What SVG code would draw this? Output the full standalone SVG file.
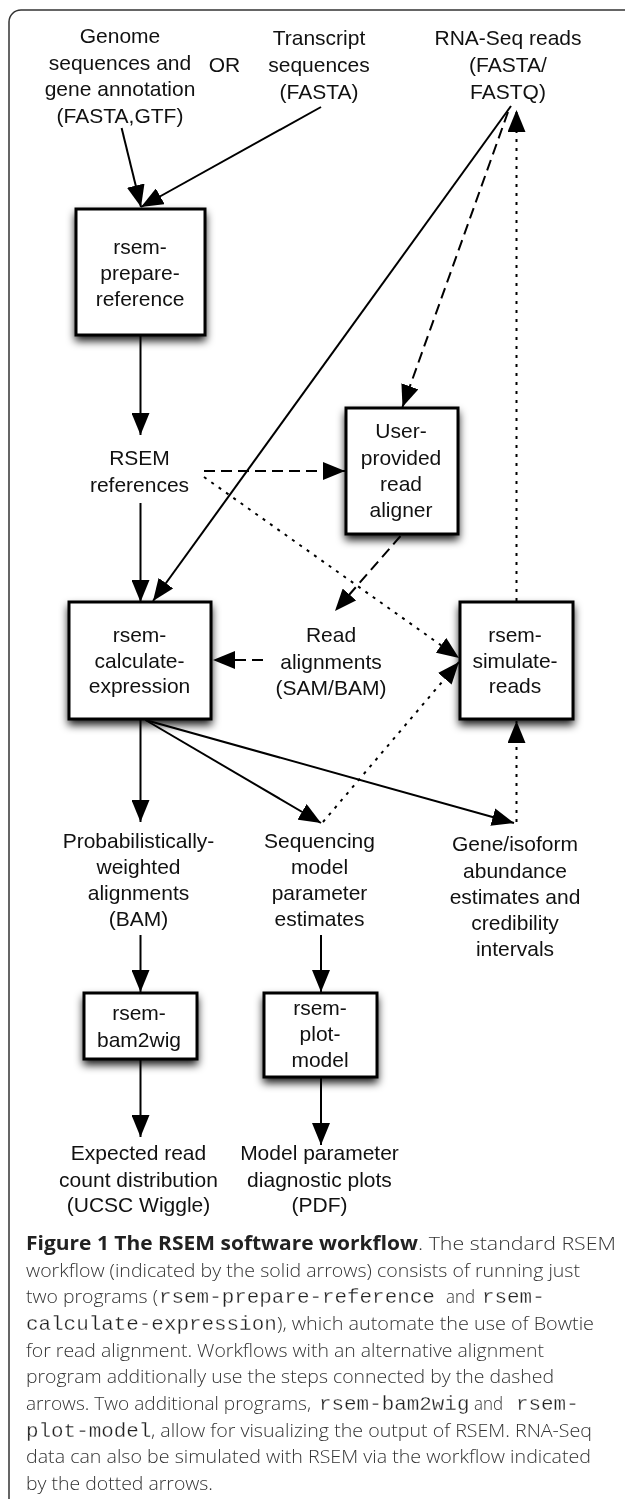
<svg xmlns="http://www.w3.org/2000/svg" width="625" height="1499" viewBox="0 0 625 1499">
<style>
  .t { font-family: "Liberation Sans", Arial, sans-serif; font-size: 21px; fill: #111; text-anchor: middle; }
  .box { fill: #fff; stroke: #000; stroke-width: 3; }
  .shadow { fill: #000; opacity: 0.9; }
  .c { fill: none; stroke: #000; stroke-width: 2; }
  .dash { stroke-dasharray: 11 6; }
  .dot { stroke-dasharray: 3 6; }
  .cap { font-family: "Open Sans", "Liberation Sans", sans-serif; font-size: 19px; fill: #333; font-weight: 300; }
  .capb { font-family: "Open Sans", "Liberation Sans", sans-serif; font-size: 19px; fill: #222; font-weight: 700; }
  .mono { font-family: "Liberation Mono", "Courier New", monospace; font-size: 20.9px; fill: #222; stroke: #fff; stroke-width: 0.3; }
</style>
<defs>
  <marker id="ah" markerUnits="userSpaceOnUse" markerWidth="22" markerHeight="18" refX="22" refY="9" orient="auto" viewBox="0 0 22 18">
    <path d="M0,0 L22,9 L0,18 Z" fill="#000"/>
  </marker>
  <filter id="blur" x="-40%" y="-40%" width="180%" height="180%">
    <feGaussianBlur stdDeviation="4.5"/>
  </filter>
</defs>
<rect width="625" height="1499" fill="#fff"/>
<rect x="9" y="10" width="640" height="1510" rx="12" fill="none" stroke="#333" stroke-width="1.5"/>

<g id="shadows" filter="url(#blur)">
  <rect class="shadow" x="75" y="213" width="131" height="128"/>
  <rect class="shadow" x="345" y="412" width="114" height="128"/>
  <rect class="shadow" x="68" y="606" width="144" height="119"/>
  <rect class="shadow" x="459" y="606" width="115" height="119"/>
  <rect class="shadow" x="83" y="997" width="115" height="68"/>
  <rect class="shadow" x="263" y="997" width="115" height="86"/>
</g>

<g id="connectors">
  <line class="c" x1="121.6" y1="128" x2="141" y2="207" marker-end="url(#ah)"/>
  <line class="c" x1="321" y1="107" x2="141" y2="207" marker-end="url(#ah)"/>
  <line class="c" x1="140.5" y1="335" x2="140.5" y2="435" marker-end="url(#ah)"/>
  <line class="c" x1="140.5" y1="503" x2="140.5" y2="602" marker-end="url(#ah)"/>
  <line class="c" x1="511" y1="106" x2="153" y2="601" marker-end="url(#ah)"/>
  <line class="c dash" x1="508" y1="112" x2="402.5" y2="407" marker-end="url(#ah)"/>
  <line class="c dash" x1="204" y1="471" x2="345" y2="471" marker-end="url(#ah)"/>
  <line class="c dot" x1="204" y1="477" x2="459" y2="658" marker-end="url(#ah)"/>
  <line class="c dash" x1="400.5" y1="536" x2="335" y2="611" marker-end="url(#ah)"/>
  <line class="c dash" x1="263" y1="660" x2="213" y2="660" marker-end="url(#ah)"/>
  <line class="c dot" x1="516.5" y1="601" x2="516.5" y2="110" marker-end="url(#ah)"/>
  <line class="c" x1="140.5" y1="720" x2="140.5" y2="822" marker-end="url(#ah)"/>
  <line class="c" x1="145.5" y1="720" x2="321" y2="823" marker-end="url(#ah)"/>
  <line class="c" x1="145.5" y1="720" x2="514" y2="823" marker-end="url(#ah)"/>
  <line class="c dot" x1="323" y1="822" x2="459" y2="662" marker-end="url(#ah)"/>
  <line class="c dot" x1="516.5" y1="822" x2="516.5" y2="721" marker-end="url(#ah)"/>
  <line class="c" x1="140.5" y1="935" x2="140.5" y2="992" marker-end="url(#ah)"/>
  <line class="c" x1="321" y1="935" x2="321" y2="992" marker-end="url(#ah)"/>
  <line class="c" x1="140.5" y1="1060" x2="140.5" y2="1137" marker-end="url(#ah)"/>
  <line class="c" x1="321" y1="1078" x2="321" y2="1145" marker-end="url(#ah)"/>
</g>

<g id="genome">
  <text class="t" x="120" y="43">Genome</text>
  <text class="t" x="120" y="69.7">sequences and</text>
  <text class="t" x="120" y="96.4">gene annotation</text>
  <text class="t" x="120" y="123">(FASTA,GTF)</text>
</g>
<g id="or"><text class="t" x="224.5" y="72">OR</text></g>
<g id="transcript">
  <text class="t" x="319" y="45">Transcript</text>
  <text class="t" x="319" y="72">sequences</text>
  <text class="t" x="319" y="98.5">(FASTA)</text>
</g>
<g id="rnaseq">
  <text class="t" x="508" y="45">RNA-Seq reads</text>
  <text class="t" x="508" y="72">(FASTA/</text>
  <text class="t" x="508" y="98.5">FASTQ)</text>
</g>

<g id="prepare">
  <rect class="box" x="76" y="209" width="129" height="126"/>
  <text class="t" x="140" y="254">rsem-</text>
  <text class="t" x="140" y="280">prepare-</text>
  <text class="t" x="140" y="306">reference</text>
</g>

<g id="rsemrefs">
  <text class="t" x="139.5" y="465">RSEM</text>
  <text class="t" x="139.5" y="492">references</text>
</g>

<g id="aligner">
  <rect class="box" x="346" y="408" width="112" height="126"/>
  <text class="t" x="401" y="438">User-</text>
  <text class="t" x="401" y="464.5">provided</text>
  <text class="t" x="401" y="491">read</text>
  <text class="t" x="401" y="517">aligner</text>
</g>

<g id="calculate">
  <rect class="box" x="69" y="602" width="142" height="117"/>
  <text class="t" x="139.5" y="642">rsem-</text>
  <text class="t" x="139.5" y="667.5">calculate-</text>
  <text class="t" x="139.5" y="693">expression</text>
</g>

<g id="readalign">
  <text class="t" x="331" y="642">Read</text>
  <text class="t" x="331" y="668.5">alignments</text>
  <text class="t" x="331" y="695">(SAM/BAM)</text>
</g>

<g id="simulate">
  <rect class="box" x="460" y="602" width="113" height="117"/>
  <text class="t" x="515" y="642">rsem-</text>
  <text class="t" x="515" y="667.5">simulate-</text>
  <text class="t" x="515" y="693">reads</text>
</g>

<g id="probweighted">
  <text class="t" x="138.5" y="848">Probabilistically-</text>
  <text class="t" x="138.5" y="874">weighted</text>
  <text class="t" x="138.5" y="900">alignments</text>
  <text class="t" x="138.5" y="926">(BAM)</text>
</g>
<g id="seqmodel">
  <text class="t" x="319.5" y="848">Sequencing</text>
  <text class="t" x="319.5" y="874">model</text>
  <text class="t" x="319.5" y="900">parameter</text>
  <text class="t" x="319.5" y="926">estimates</text>
</g>
<g id="abundance">
  <text class="t" x="515" y="851">Gene/isoform</text>
  <text class="t" x="515" y="877.5">abundance</text>
  <text class="t" x="515" y="903.5">estimates and</text>
  <text class="t" x="515" y="930">credibility</text>
  <text class="t" x="515" y="956">intervals</text>
</g>

<g id="bam2wig">
  <rect class="box" x="84" y="993" width="113" height="66"/>
  <text class="t" x="139" y="1020">rsem-</text>
  <text class="t" x="139" y="1047">bam2wig</text>
</g>
<g id="plotmodel">
  <rect class="box" x="264" y="993" width="113" height="84"/>
  <text class="t" x="320" y="1015">rsem-</text>
  <text class="t" x="320" y="1040.5">plot-</text>
  <text class="t" x="320" y="1067">model</text>
</g>

<g id="wiggle">
  <text class="t" x="138.5" y="1160">Expected read</text>
  <text class="t" x="138.5" y="1187">count distribution</text>
  <text class="t" x="138.5" y="1212">(UCSC Wiggle)</text>
</g>
<g id="diagplots">
  <text class="t" x="319.5" y="1160">Model parameter</text>
  <text class="t" x="319.5" y="1187">diagnostic plots</text>
  <text class="t" x="319.5" y="1212">(PDF)</text>
</g>

<g id="caption">
  <text class="capb" x="26" y="1250" textLength="392" lengthAdjust="spacingAndGlyphs">Figure 1 The RSEM software workflow</text>
  <text class="cap" x="418" y="1250" textLength="198" lengthAdjust="spacingAndGlyphs">. The standard RSEM</text>
  <text class="cap" x="26" y="1276.7" textLength="554" lengthAdjust="spacingAndGlyphs">workflow (indicated by the solid arrows) consists of running just</text>
  <text class="cap" x="26" y="1303.3" textLength="132" lengthAdjust="spacingAndGlyphs">two programs (</text>
  <text class="mono" x="159" y="1303.3">rsem-prepare-reference</text>
  <text class="cap" x="446" y="1303.3" textLength="29" lengthAdjust="spacingAndGlyphs">and</text>
  <text class="mono" x="482" y="1303.3">rsem-</text>
  <text class="mono" x="26" y="1330">calculate-expression</text>
  <text class="cap" x="277" y="1330" textLength="317" lengthAdjust="spacingAndGlyphs">), which automate the use of Bowtie</text>
  <text class="cap" x="26" y="1356.7" textLength="518" lengthAdjust="spacingAndGlyphs">for read alignment. Workflows with an alternative alignment</text>
  <text class="cap" x="26" y="1383.3" textLength="528" lengthAdjust="spacingAndGlyphs">program additionally use the steps connected by the dashed</text>
  <text class="cap" x="26" y="1410" textLength="285" lengthAdjust="spacingAndGlyphs">arrows. Two additional programs,</text>
  <text class="mono" x="319" y="1410">rsem-bam2wig</text>
  <text class="cap" x="474" y="1410" textLength="29" lengthAdjust="spacingAndGlyphs">and</text>
  <text class="mono" x="516" y="1410">rsem-</text>
  <text class="mono" x="26" y="1436.7">plot-model</text>
  <text class="cap" x="151" y="1436.7" textLength="441" lengthAdjust="spacingAndGlyphs">, allow for visualizing the output of RSEM. RNA-Seq</text>
  <text class="cap" x="26" y="1463.3" textLength="565" lengthAdjust="spacingAndGlyphs">data can also be simulated with RSEM via the workflow indicated</text>
  <text class="cap" x="26" y="1490" textLength="187" lengthAdjust="spacingAndGlyphs">by the dotted arrows.</text>
</g>
</svg>
